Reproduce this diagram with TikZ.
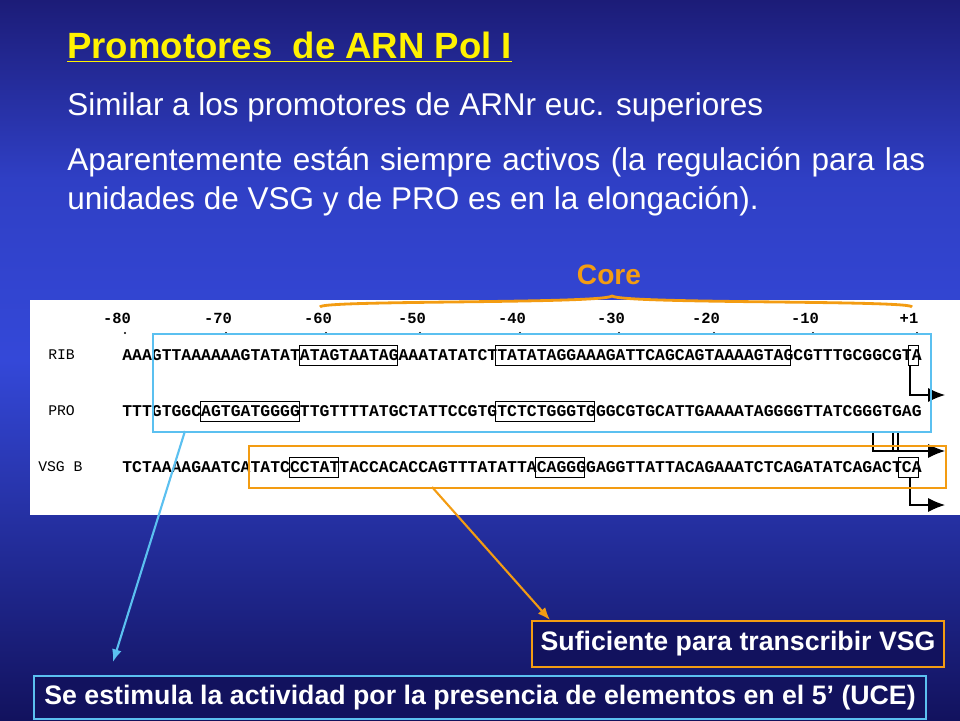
\documentclass[tikz,border=0pt]{standalone}
\usepackage{fontspec}
\setmainfont{Liberation Sans}
\newfontfamily\seqfont{Liberation Mono}
\usetikzlibrary{positioning,arrows.meta}
\definecolor{skyline}{HTML}{5BC0F0}
\definecolor{coreorange}{HTML}{F39C12}
\definecolor{slidetop}{HTML}{1C1C78}
\definecolor{slidemid}{HTML}{3448D8}
\definecolor{slidebot}{HTML}{12125E}
\begin{document}
\begin{tikzpicture}[x=0.25mm,y=-0.25mm]
  \tikzset{
    body text/.style={anchor=west,text=white,font=\fontsize{22.4}{27.7}\selectfont,inner sep=0pt},
    seq/.style={anchor=west,inner sep=0pt,font=\seqfont\bfseries\fontsize{11.7}{12}\selectfont},
    seq label/.style={anchor=west,inner sep=0pt,font=\seqfont\fontsize{10.5}{12}\selectfont},
    motif/.style={draw,thin},
    note box/.style={draw,line width=1.5pt,fill=slidebot,text=white,font=\bfseries\fontsize{19}{22}\selectfont,inner sep=3pt},
    start arrow/.style={thick,-{Latex[length=12pt,width=10pt]}}
  }
  \shade[top color=slidetop,bottom color=slidemid,middle color=slidemid!80!slidetop] (0,0) rectangle (960,360);
  \shade[top color=slidemid,bottom color=slidebot] (0,360) rectangle (960,720);
  % title and text
  \node[body text,text=yellow,font=\bfseries\fontsize{26}{30}\selectfont] (title) at (67,47) {\underline{Promotores\ \ de ARN Pol I}};
  \node[body text] (line1) at (67,107) {Similar a los promotores de ARNr euc. superiores};
  \node[body text,text width=214.5mm,align=justify,anchor=north west] (line2) at (67,147)
    {Aparentemente están siempre activos (la regulación para las unidades de VSG y de PRO es en la elongación).};
  % sequence figure
  \fill[white] (30,300) rectangle (960,515);
  \foreach \pos/\lab [count=\i] in {117/-80,218/-70,318/-60,412/-50,512/-40,611/-30,706/-20,805/-10,909/+1} {
    \node[font=\seqfont\bfseries\fontsize{11}{12}\selectfont,inner sep=0pt] (num\i) at (\pos,318) {\lab};
    \fill (\pos+8,333) circle (1.2);
  }
  \node[seq label] (ribname) at (48,355) {RIB};
  \node[seq label] (proname) at (48,411) {PRO};
  \node[seq label] (vsgname) at (38,467) {VSG B};
  \node[seq] (rib) at (122,355) {AAAGTTAAAAAAGTATATATAGTAATAGAAATATATCTTATATAGGAAAGATTCAGCAGTAAAAGTAGCGTTTGCGGCGTA};
  \node[seq] (pro) at (122,411) {TTTGTGGCAGTGATGGGGTTGTTTTATGCTATTCCGTGTCTCTGGGTGGGCGTGCATTGAAAATAGGGGTTATCGGGTGAG};
  \node[seq] (vsg) at (122,467) {TCTAAAAGAATCATATCCCTATTACCACACCAGTTTATATTACAGGGGAGGTTATTACAGAAATCTCAGATATCAGACTCA};
  % boxed motifs (start/end char index)
  \foreach \y/\a/\b in {355/18/28,355/38/68,355/80/81,411/8/18,411/38/48,467/17/22,467/42/47,467/79/81}
    \draw[motif] (122+9.83*\a,\y-10) rectangle (122+9.83*\b,\y+10);
  % start sites
  \coordinate (ribstart) at (910,365);
  \coordinate (ribend) at (945,395);
  \draw[start arrow] (ribstart) |- (ribend);
  \coordinate (vsgstart) at (910,477);
  \coordinate (vsgend) at (945,505);
  \draw[start arrow] (vsgstart) |- (vsgend);
  \coordinate (prostart) at (873,431);
  \coordinate (proend) at (945,451);
  \draw[start arrow] (prostart) |- (proend);
  \draw[thick] (893,431) -- (893,451) (898,431) -- (898,451);
  % highlight boxes
  \node[draw=skyline,line width=1.5pt,minimum width=778*0.25mm,minimum height=98*0.25mm,anchor=north west,inner sep=0pt] (uce) at (152,333) {};
  \node[draw=coreorange,line width=1.5pt,minimum width=697*0.25mm,minimum height=42*0.25mm,anchor=north west,inner sep=0pt] (corebox) at (248,445) {};
  % core brace
  \coordinate (braceleft) at (320,307);
  \coordinate (braceright) at (912,307);
  \draw[coreorange,line width=2pt] (braceleft) .. controls (320,300) and (600,304) .. (612,296)
    .. controls (624,304) and (912,300) .. (braceright);
  \node[text=coreorange,font=\bfseries\fontsize{20}{24}\selectfont] (core) at (609,275) {Core};
  % notes
  \node[note box,draw=coreorange,anchor=north west,minimum width=412*0.25mm,minimum height=46*0.25mm] (suff) at (531,620) {Suficiente para transcribir VSG};
  \node[note box,draw=skyline,anchor=north west,minimum width=892*0.25mm,minimum height=43*0.25mm] (stim) at (33,675) {Se estimula la actividad por la presencia de elementos en el 5’ (UCE)};
  \coordinate (uceout) at (185,431);
  \coordinate (uceend) at (113,662);
  \draw[skyline,line width=1.5pt,-{Latex[length=9pt,width=7pt]}] (uceout) -- (uceend);
  \coordinate (coreout) at (432,487);
  \coordinate (suffin) at (550,620);
  \draw[coreorange,line width=1.5pt,-{Latex[length=9pt,width=7pt]}] (coreout) -- (suffin);
  \useasboundingbox (0,0) rectangle (960,720);
\end{tikzpicture}
\end{document}
